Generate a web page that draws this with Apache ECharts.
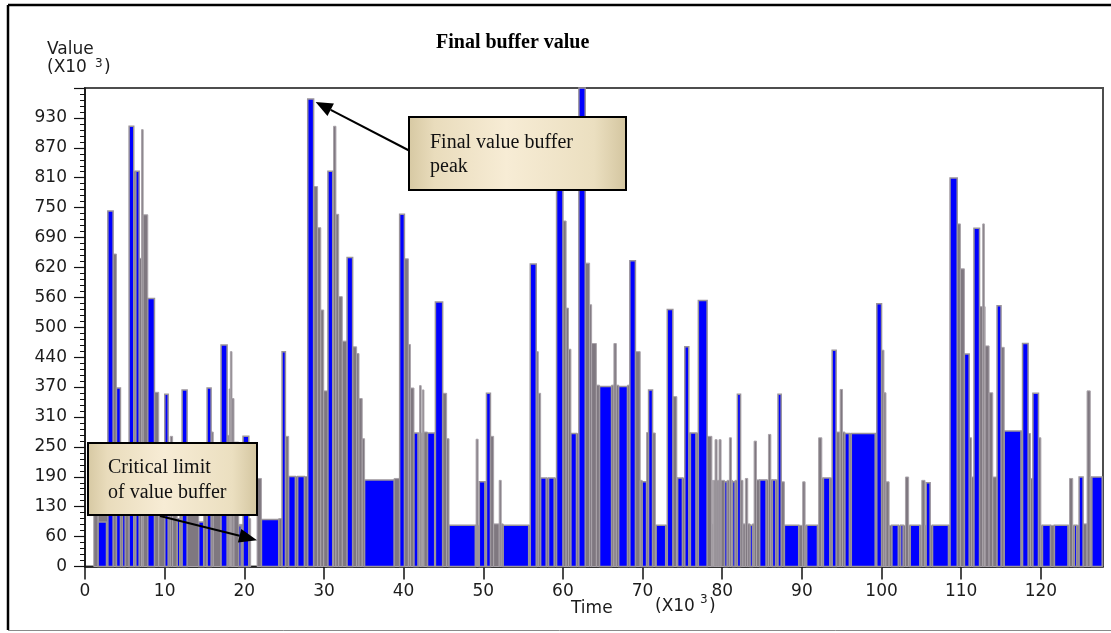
<!DOCTYPE html>
<html>
<head>
<meta charset="utf-8">
<title>Final buffer value</title>
<script src="https://cdn.jsdelivr.net/npm/echarts@6/dist/echarts.min.js"></script>
<style>
  html, body { margin: 0; padding: 0; background: #fff; }
  #chart { width: 1111px; height: 633px; }
</style>
</head>
<body>
<div id="chart"></div>
<script>
// Value axis labels (thousands), one per 62.5 step
const yTickLabels = ['0', '60', '130', '190', '250', '310', '370', '440', '500', '560', '620', '690', '750', '810', '870', '930'];

// Blue buffer bars: [start time, end time, value] (time and value in thousands)
const blueBars = [
  [1.65, 2.7, 93], [2.87, 3.53, 743], [3.95, 4.45, 373], [4.7, 5.04, 160], [5.54, 6.12, 920],
  [6.38, 6.8, 826], [7.88, 8.72, 560], [10.02, 10.44, 360], [11.58, 11.9, 100], [12.19, 12.82, 369],
  [14.28, 14.9, 93], [15.33, 15.83, 373], [17.08, 17.84, 463], [19.3, 19.6, 85], [19.84, 20.56, 272],
  [22.15, 24.32, 98], [24.74, 25.16, 449], [25.57, 26.41, 188], [26.7, 27.54, 188], [27.96, 28.7, 977],
  [30.5, 31.1, 826], [32.9, 33.6, 646], [35.1, 38.8, 181], [39.5, 40.1, 736], [41.3, 41.8, 279],
  [43.0, 43.9, 279], [43.99, 44.9, 553], [45.7, 49.0, 86], [49.5, 50.2, 177], [50.4, 50.9, 362],
  [52.5, 55.7, 86], [55.9, 56.65, 632], [57.2, 57.9, 185], [58.2, 58.9, 185], [59.2, 60.0, 800],
  [61.0, 61.7, 278], [62.0, 62.8, 1000], [64.6, 66.1, 376], [67.0, 68.1, 376], [68.4, 69.1, 639],
  [69.95, 70.5, 177], [70.75, 71.25, 369], [71.7, 72.9, 86], [73.1, 73.8, 537], [74.4, 75.0, 185],
  [75.3, 75.8, 459], [76.0, 76.7, 279], [77.0, 78.1, 556], [80.3, 80.6, 177], [81.3, 81.6, 177],
  [81.9, 82.3, 360], [83.5, 83.8, 86], [84.7, 85.5, 181], [86.3, 86.7, 181], [87.0, 87.4, 360],
  [87.8, 89.6, 86], [90.6, 91.95, 86], [92.7, 93.5, 185], [93.8, 94.3, 452], [95.4, 95.96, 278],
  [96.2, 99.2, 278], [99.4, 100.0, 549], [101.3, 102.1, 86], [102.4, 102.7, 86], [103.6, 104.8, 86],
  [105.6, 106.1, 175], [106.4, 108.4, 86], [108.6, 109.5, 812], [110.4, 111.0, 444], [111.6, 112.3, 707],
  [114.5, 115.0, 545], [115.4, 117.5, 283], [117.7, 118.4, 466], [119.0, 119.7, 362], [120.2, 121.2, 86],
  [121.7, 123.4, 86], [124.2, 124.5, 86], [124.8, 125.3, 187], [126.4, 127.7, 187]
];

// Grey buffer steps between and behind the blue bars: [start time, end time, value]
const greySteps = [
  [1.1, 1.65, 120], [1.65, 2.87, 110], [3.53, 3.95, 653], [4.45, 4.7, 250], [5.04, 5.54, 230],
  [6.12, 6.38, 826], [6.8, 7.1, 644], [7.1, 7.3, 913], [7.3, 7.88, 735], [8.72, 9.26, 364],
  [9.26, 10.02, 240], [10.44, 10.7, 250], [10.7, 11.0, 272], [11.0, 11.58, 200], [11.9, 12.19, 180],
  [12.82, 14.28, 220], [14.9, 15.33, 200], [15.83, 16.1, 281], [16.1, 17.08, 230], [17.84, 18.1, 274],
  [18.1, 18.25, 371], [18.25, 18.45, 449], [18.45, 18.7, 351], [18.7, 19.3, 260], [19.3, 19.84, 88],
  [20.56, 20.8, 100], [21.6, 22.15, 184], [24.32, 24.74, 100], [25.16, 25.57, 272], [26.41, 26.7, 188],
  [27.54, 27.96, 188], [28.7, 29.2, 794], [29.2, 29.6, 708], [29.6, 29.97, 536], [29.97, 30.5, 367],
  [31.1, 31.2, 826], [31.2, 31.5, 920], [31.5, 31.85, 736], [31.85, 32.3, 564], [32.3, 32.9, 471],
  [33.6, 34.1, 459], [34.1, 34.4, 445], [34.4, 34.8, 351], [34.8, 35.1, 267], [38.8, 39.5, 184],
  [40.1, 40.6, 643], [40.6, 40.85, 464], [40.85, 41.3, 373], [41.8, 42.0, 279], [42.0, 42.2, 378],
  [42.2, 42.35, 279], [42.35, 42.55, 369], [42.55, 43.0, 281], [43.9, 43.99, 279], [44.9, 45.4, 362],
  [45.4, 45.7, 267], [49.0, 49.1, 86], [49.1, 49.35, 266], [49.35, 49.5, 86], [50.2, 50.4, 177],
  [50.9, 51.3, 272], [51.3, 52.0, 89], [52.0, 52.25, 180], [52.25, 52.5, 89], [55.7, 55.9, 86],
  [56.65, 56.9, 449], [56.9, 57.2, 362], [57.9, 58.2, 185], [58.9, 59.2, 185], [60.0, 60.4, 722],
  [60.4, 60.7, 540], [60.7, 61.0, 454], [61.7, 62.0, 278], [62.8, 63.35, 634], [63.35, 63.6, 547],
  [63.6, 64.2, 466], [64.2, 64.6, 379], [66.1, 66.4, 379], [66.4, 66.7, 466], [66.7, 67.0, 379],
  [68.1, 68.4, 379], [69.1, 69.7, 449], [69.7, 69.95, 180], [70.5, 70.75, 280], [71.25, 71.6, 279],
  [71.6, 71.7, 86], [72.9, 73.1, 86], [73.8, 74.3, 355], [74.3, 74.4, 185], [75.0, 75.3, 185],
  [75.8, 76.0, 279], [76.7, 77.0, 279], [78.1, 78.7, 272], [78.7, 78.75, 180], [78.75, 78.9, 89],
  [78.9, 79.1, 180], [79.1, 79.35, 265], [79.35, 79.6, 180], [79.6, 79.85, 265], [79.85, 80.3, 180],
  [80.6, 80.9, 180], [80.9, 81.15, 269], [81.15, 81.3, 180], [81.6, 81.9, 180], [82.3, 82.6, 180],
  [82.6, 82.9, 89], [82.9, 83.2, 184], [83.2, 83.5, 89], [83.8, 84.0, 89], [84.0, 84.3, 262],
  [84.3, 84.7, 181], [85.5, 85.8, 181], [85.8, 86.1, 276], [86.1, 86.3, 181], [86.7, 87.0, 181],
  [87.4, 87.8, 177], [89.6, 90.1, 86], [90.1, 90.4, 177], [90.4, 90.6, 86], [91.95, 92.1, 86],
  [92.1, 92.5, 269], [92.5, 92.7, 185], [93.5, 93.8, 185], [94.3, 94.8, 281], [94.8, 95.1, 370],
  [95.1, 95.4, 281], [95.96, 96.2, 278], [99.2, 99.4, 278], [100.0, 100.3, 452], [100.3, 100.55, 363],
  [100.55, 100.95, 177], [100.95, 101.3, 86], [102.1, 102.4, 86], [102.7, 103.0, 86], [103.0, 103.4, 187],
  [103.4, 103.6, 86], [104.8, 105.05, 86], [105.05, 105.45, 180], [105.45, 105.6, 86], [106.1, 106.4, 86],
  [108.4, 108.6, 86], [109.5, 109.9, 716], [109.9, 110.4, 622], [111.0, 111.3, 269], [111.3, 111.6, 187],
  [112.3, 112.7, 543], [112.7, 112.9, 716], [112.9, 113.0, 543], [113.0, 113.5, 461], [113.5, 113.96, 363],
  [113.96, 114.5, 187], [115.0, 115.4, 458], [117.5, 117.7, 283], [118.4, 118.7, 278], [118.7, 119.0, 184],
  [119.7, 120.0, 269], [120.0, 120.2, 86], [121.2, 121.7, 86], [123.4, 123.6, 86], [123.6, 124.0, 184],
  [124.0, 124.2, 86], [124.5, 124.8, 86], [125.3, 125.8, 89], [125.8, 126.2, 367], [126.2, 126.4, 187]
];

// Points the two callout arrows refer to
const peakPoint = [28.7, 977];
const criticalPoint = [21.6, 55];

const axisFont = 'DejaVu Sans';
const textColor = '#1c1c1c';

function blockRenderer(fill, stroke, lineWidth) {
  return function (params, api) {
    const top = api.coord([api.value(0), api.value(2)]);
    const base = api.coord([api.value(1), 0]);
    const cs = params.coordSys;
    const shape = echarts.graphic.clipRectByRect(
      { x: top[0], y: top[1], width: base[0] - top[0], height: base[1] - top[1] },
      { x: cs.x, y: cs.y, width: cs.width, height: cs.height }
    );
    return shape && {
      type: 'rect',
      shape: shape,
      style: { fill: fill, stroke: stroke, lineWidth: lineWidth }
    };
  };
}

const chart = echarts.init(document.getElementById('chart'), null, { renderer: 'canvas' });

chart.setOption({
  animation: false,
  backgroundColor: '#ffffff',
  title: {
    text: 'Final buffer value',
    left: 431,
    top: 28,
    textStyle: { fontFamily: 'Liberation Serif', fontWeight: 'bold', fontSize: 20, color: '#000' }
  },
  grid: {
    left: 85, right: 8, top: 88, bottom: 66.5,
    show: true, borderColor: '#4d4d4d', borderWidth: 2, backgroundColor: '#fff'
  },
  xAxis: {
    type: 'value',
    min: 0, max: 127.8, interval: 10,
    axisLine: { show: true, onZero: false, lineStyle: { color: '#111', width: 1.5 } },
    axisTick: { show: true, inside: false, length: 13, lineStyle: { color: '#111', width: 1.5 } },
    axisLabel: {
      margin: 17, fontFamily: axisFont, fontSize: 17, color: textColor,
      showMaxLabel: false
    },
    splitLine: { show: false }
  },
  yAxis: {
    type: 'value',
    min: 0, max: 1000, interval: 62.5,
    axisLine: { show: true, lineStyle: { color: '#111', width: 1.5 } },
    axisTick: { show: true, inside: false, length: 11, lineStyle: { color: '#111', width: 1.2 } },
    minorTick: { show: true, splitNumber: 5, length: 5, lineStyle: { color: '#111', width: 1 } },
    axisLabel: {
      margin: 18, fontFamily: axisFont, fontSize: 17, color: textColor,
      formatter: function (v) {
        const i = Math.round(v / 62.5);
        return i < yTickLabels.length ? yTickLabels[i] : '';
      }
    },
    splitLine: { show: false }
  },
  series: [
    {
      type: 'custom',
      name: 'grey',
      data: greySteps,
      encode: { x: [0, 1], y: 2 },
      renderItem: blockRenderer('#7f7880', '#a9a3a9', 1),
      z: 2
    },
    {
      type: 'custom',
      name: 'blue',
      data: blueBars,
      encode: { x: [0, 1], y: 2 },
      renderItem: blockRenderer('#0000ff', '#9a949a', 1.5),
      z: 3
    }
  ]
});

// Frame, axis captions and callouts
function arrow(from, to, headLen, headHalf) {
  const dx = to[0] - from[0], dy = to[1] - from[1];
  const len = Math.sqrt(dx * dx + dy * dy);
  const ux = dx / len, uy = dy / len;
  const bx = to[0] - ux * headLen, by = to[1] - uy * headLen;
  return [
    { type: 'line', shape: { x1: from[0], y1: from[1], x2: bx, y2: by }, style: { stroke: '#000', lineWidth: 2 }, z: 20 },
    {
      type: 'polygon',
      shape: { points: [to, [bx - uy * headHalf, by + ux * headHalf], [bx + uy * headHalf, by - ux * headHalf]] },
      style: { fill: '#000' }, z: 20
    }
  ];
}

function callout(x, y, w, h, lines, textX, firstBaseline, lineGap) {
  const fill = new echarts.graphic.LinearGradient(0, 0, 1, 0, [
    { offset: 0, color: '#d6c8a2' },
    { offset: 0.12, color: '#e9dcbc' },
    { offset: 0.45, color: '#f7ecd5' },
    { offset: 0.85, color: '#ebdfc0' },
    { offset: 1, color: '#d3c59f' }
  ]);
  const els = [{
    type: 'rect', shape: { x: x, y: y, width: w, height: h },
    style: { fill: fill, stroke: '#000', lineWidth: 2 }, z: 21
  }];
  lines.forEach(function (t, i) {
    els.push({
      type: 'text', z: 22,
      style: {
        text: t, x: textX, y: firstBaseline + i * lineGap,
        font: '20px "Liberation Serif"', fill: '#111', verticalAlign: 'bottom'
      }
    });
  });
  return els;
}

const peakPx = chart.convertToPixel({ gridIndex: 0 }, peakPoint);
const critPx = chart.convertToPixel({ gridIndex: 0 }, criticalPoint);

const smallFont = '17px "DejaVu Sans"';
const supFont = '12px "DejaVu Sans"';

chart.setOption({
  graphic: [].concat(
    [
      { type: 'line', shape: { x1: 8, y1: 5, x2: 1111, y2: 5 }, style: { stroke: '#000', lineWidth: 2.5 }, z: 30 },
      { type: 'line', shape: { x1: 8, y1: 5, x2: 8, y2: 630 }, style: { stroke: '#000', lineWidth: 2.5 }, z: 30 },
      { type: 'line', shape: { x1: 8, y1: 630.5, x2: 1111, y2: 630.5 }, style: { stroke: '#8a8a8a', lineWidth: 1 }, z: 30 },

      { type: 'text', style: { text: 'Value', x: 47, y: 50, font: smallFont, fill: textColor, verticalAlign: 'middle' } },
      { type: 'text', style: { text: '(X10', x: 47, y: 68, font: smallFont, fill: textColor, verticalAlign: 'middle' } },
      { type: 'text', style: { text: '3', x: 95, y: 64, font: supFont, fill: textColor, verticalAlign: 'middle' } },
      { type: 'text', style: { text: ')', x: 104, y: 68, font: smallFont, fill: textColor, verticalAlign: 'middle' } },

      { type: 'text', style: { text: 'Time', x: 571, y: 609, font: smallFont, fill: textColor, verticalAlign: 'middle' } },
      { type: 'text', style: { text: '(X10', x: 655, y: 607, font: smallFont, fill: textColor, verticalAlign: 'middle' } },
      { type: 'text', style: { text: '3', x: 700, y: 600, font: supFont, fill: textColor, verticalAlign: 'middle' } },
      { type: 'text', style: { text: ')', x: 709, y: 607, font: smallFont, fill: textColor, verticalAlign: 'middle' } }
    ],
    arrow([410, 151], [peakPx[0] + 2, peakPx[1] + 3], 17, 7),
    callout(409, 117, 217, 73, ['Final value buffer', 'peak'], 430, 153, 24),
    arrow([160, 516], [critPx[0], critPx[1]], 18, 7),
    callout(88, 443, 169, 72, ['Critical limit', 'of value buffer'], 108, 478, 25)
  )
});
</script>
</body>
</html>
